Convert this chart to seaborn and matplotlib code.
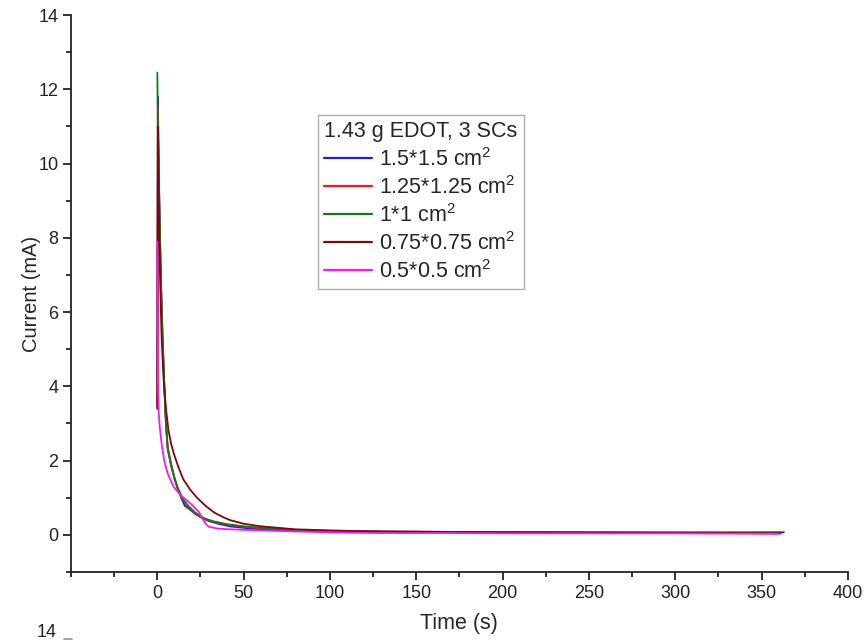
import matplotlib
matplotlib.use("Agg")
import matplotlib.pyplot as plt
from matplotlib.lines import Line2D
from matplotlib.ticker import MultipleLocator
import numpy as np
import pandas as pd
import seaborn as sns

# Chronoamperometry traces, 1.43 g EDOT, 3 SCs, for five electrode areas
labels = ["1.5*1.5 cm$^{2}$", "1.25*1.25 cm$^{2}$", "1*1 cm$^{2}$",
          "0.75*0.75 cm$^{2}$", "0.5*0.5 cm$^{2}$"]
colors = ["#1f1fd8", "#f01818", "#137a13", "#7a0a0a", "#f01cf0"]

t_15 = [0, 0.3, 1, 2, 3, 4, 5, 6, 8, 10, 12, 14, 16, 19, 22, 26, 30, 36, 42, 50,
        60, 75, 90, 110, 140, 180, 220, 260, 300, 340, 363]
i_15 = [3.5, 11.8, 9.4, 7.0, 5.3, 4.1, 3.0, 2.35, 1.9, 1.52, 1.22, 0.98, 0.78,
        0.68, 0.56, 0.45, 0.37, 0.29, 0.23, 0.19, 0.15, 0.12, 0.1, 0.09, 0.08,
        0.075, 0.07, 0.07, 0.065, 0.065, 0.07]

t_125 = [0, 0.3, 1, 2, 3, 4, 5, 6, 8, 10, 12, 15, 18, 22, 27, 32, 40, 50, 60, 80,
         100, 130, 170, 210, 250, 290, 330, 360]
i_125 = [3.4, 11.5, 9.2, 6.9, 5.3, 4.1, 3.0, 2.35, 1.9, 1.5, 1.22, 0.93, 0.75,
         0.58, 0.44, 0.36, 0.28, 0.22, 0.18, 0.13, 0.1, 0.09, 0.08, 0.07, 0.065,
         0.06, 0.06, 0.06]

t_1 = [0, 0.3, 1, 2, 3, 4, 5, 6, 8, 10, 12, 15, 18, 22, 27, 32, 40, 50, 60, 80,
       100, 130, 170, 210, 250, 290, 330, 360]
i_1 = [12.45, 11.2, 9.3, 7.0, 5.4, 4.0, 3.0, 2.3, 1.85, 1.52, 1.25, 0.95, 0.78,
       0.6, 0.45, 0.37, 0.29, 0.23, 0.19, 0.13, 0.11, 0.09, 0.08, 0.07, 0.065,
       0.06, 0.06, 0.06]

t_075 = [0, 0.3, 1, 1.7, 2.5, 3.7, 5, 6.5, 8, 9.5, 12, 15, 19, 23, 28, 33, 38, 42,
         50, 60, 80, 100, 130, 170, 210, 250, 290, 330, 361]
i_075 = [3.4, 11.0, 8.6, 6.7, 5.3, 4.15, 3.4, 2.8, 2.45, 2.2, 1.85, 1.5, 1.22,
         1.0, 0.78, 0.6, 0.48, 0.4, 0.3, 0.23, 0.15, 0.12, 0.09, 0.08, 0.07,
         0.06, 0.055, 0.05, 0.04]

t_05 = [0, 0.3, 0.8, 1.5, 2.7, 4, 6, 9.4, 13.3, 17, 20, 24, 26, 28, 29.7, 35, 42,
        60, 81, 110, 130, 170, 210, 250, 290, 330, 360]
i_05 = [7.9, 4.2, 3.3, 2.85, 2.38, 2.0, 1.65, 1.3, 1.08, 0.93, 0.81, 0.62, 0.45,
        0.3, 0.22, 0.17, 0.15, 0.12, 0.09, 0.06, 0.05, 0.05, 0.04, 0.04, 0.04,
        0.035, 0.03]

series = [(t_15, i_15), (t_125, i_125), (t_1, i_1), (t_075, i_075), (t_05, i_05)]
frames = []
for lab, (t, i) in zip(labels, series):
    frames.append(pd.DataFrame({"Time (s)": t, "Current (mA)": i, "Area": lab}))
df = pd.concat(frames, ignore_index=True)

sns.set_style("ticks")
plt.rcParams["font.family"] = ["Liberation Sans", "DejaVu Sans"]
plt.rcParams["mathtext.fontset"] = "custom"
plt.rcParams["mathtext.rm"] = "Liberation Sans"
plt.rcParams["mathtext.it"] = "Liberation Sans"

fig = plt.figure(figsize=(8.66, 6.42), dpi=100)
ax = fig.add_axes([0.082, 0.109, 0.897, 0.8676])

sns.lineplot(data=df, x="Time (s)", y="Current (mA)", hue="Area",
             palette=dict(zip(labels, colors)), hue_order=labels,
             sort=False, estimator=None, linewidth=1.3, ax=ax)

ax.set_xlim(-50, 400)
ax.set_ylim(-1, 14)
ax.xaxis.set_major_locator(MultipleLocator(50))
ax.xaxis.set_minor_locator(MultipleLocator(25))
ax.yaxis.set_major_locator(MultipleLocator(2))
ax.yaxis.set_minor_locator(MultipleLocator(1))
ax.set_xticks([0, 50, 100, 150, 200, 250, 300, 350, 400])

for side in ("top", "right"):
    ax.spines[side].set_visible(False)
for side in ("left", "bottom"):
    ax.spines[side].set_linewidth(1.3)
    ax.spines[side].set_color("#222222")
ax.tick_params(which="major", direction="out", length=6, width=1.3,
               labelsize=13, colors="#222222", pad=3)
ax.tick_params(which="minor", direction="out", length=3.5, width=1.3,
               colors="#222222")

ax.set_xlabel("Time (s)", fontsize=15.5, labelpad=8)
ax.set_ylabel("Current (mA)", fontsize=14.5, labelpad=-2)

leg = ax.legend(title="1.43 g EDOT, 3 SCs", loc="upper left",
                bbox_to_anchor=(318 / 866, 1 - 115 / 642),
                bbox_transform=fig.transFigure, borderaxespad=0,
                fontsize=15.5, title_fontsize=15.5, frameon=True, fancybox=False,
                handlelength=2.2, handletextpad=0.32, labelspacing=0.24,
                borderpad=0.3, alignment="left")
leg.get_frame().set_edgecolor("#999999")
leg.get_frame().set_linewidth(1.0)
for ln in leg.get_lines():
    ln.set_linewidth(1.6)

# start of the next panel's y axis, at the lower edge
fig.text(57 / 866, 1 - 641 / 642, "14", ha="right", va="bottom", fontsize=13,
         color="#222222")
fig.add_artist(Line2D([64 / 866, 72 / 866], [1 - 639 / 642, 1 - 639 / 642],
                      transform=fig.transFigure, color="#999999", lw=1.3))

fig.savefig("out.png", dpi=100)
